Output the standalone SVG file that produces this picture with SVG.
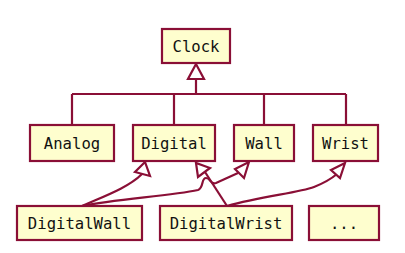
<svg xmlns="http://www.w3.org/2000/svg" width="405" height="253" viewBox="0 0 405 253">
  <style>
    .box { fill: #FEFECE; stroke: #8A0F36; stroke-width: 2.2; }
    .lbl { font-family: "DejaVu Sans Mono", "Liberation Mono", monospace; font-size: 15.6px; fill: #111; text-anchor: middle; }
    .edge { fill: none; stroke: #8A0F36; stroke-width: 2.2; }
    .head { fill: #FFFFFF; stroke: #8A0F36; stroke-width: 2.2; stroke-linejoin: miter; }
  </style>
  <rect width="405" height="253" fill="#FFFFFF"/>

  <g id="connectors">
    <!-- generalisation tree to Clock -->
    <path class="edge" d="M196,79 V94 M72,94 H346 M72,94 V125 M174,94 V125 M264,94 V125 M346,94 V125"/>
    <polygon class="head" points="196,64 188,79 204,79"/>

    <!-- DigitalWall -> Digital -->
    <path class="edge" d="M82,206 C102,197 128,188 142,174"/>
    <polygon class="head" points="145,162 135,172 150,176"/>

    <!-- DigitalWall -> Wall -->
    <path class="edge" d="M82,206 C115,199 170,196 198,190 C204,188 201,178 206,178 C211,178 210,185 216,183 L238,173"/>
    <polygon class="head" points="249,162 235,169 244,178"/>

    <!-- DigitalWrist -> Digital -->
    <path class="edge" d="M227,206 L205,172"/>
    <polygon class="head" points="196,163 198,177 210,168"/>

    <!-- DigitalWrist -> Wrist -->
    <path class="edge" d="M227,206 C262,196 298,193 314,187 C324,183 331,179 337,174"/>
    <polygon class="head" points="345,163 331,170 340,178"/>
  </g>

  <g id="Clock">
    <rect class="box" x="162" y="29" width="68" height="34"/>
    <text class="lbl" x="196" y="52">Clock</text>
  </g>
  <g id="Analog">
    <rect class="box" x="30" y="125" width="84" height="36"/>
    <text class="lbl" x="72" y="149">Analog</text>
  </g>
  <g id="Digital">
    <rect class="box" x="133" y="125" width="82" height="36"/>
    <text class="lbl" x="174" y="149">Digital</text>
  </g>
  <g id="Wall">
    <rect class="box" x="234" y="125" width="60" height="36"/>
    <text class="lbl" x="264" y="149">Wall</text>
  </g>
  <g id="Wrist">
    <rect class="box" x="313" y="125" width="65" height="36"/>
    <text class="lbl" x="345.5" y="149">Wrist</text>
  </g>
  <g id="DigitalWall">
    <rect class="box" x="17" y="206" width="125" height="34"/>
    <text class="lbl" x="79.5" y="229">DigitalWall</text>
  </g>
  <g id="DigitalWrist">
    <rect class="box" x="160" y="206" width="132" height="34"/>
    <text class="lbl" x="226" y="229">DigitalWrist</text>
  </g>
  <g id="More">
    <rect class="box" x="309" y="206" width="70" height="34"/>
    <text class="lbl" x="344" y="229">...</text>
  </g>
</svg>
